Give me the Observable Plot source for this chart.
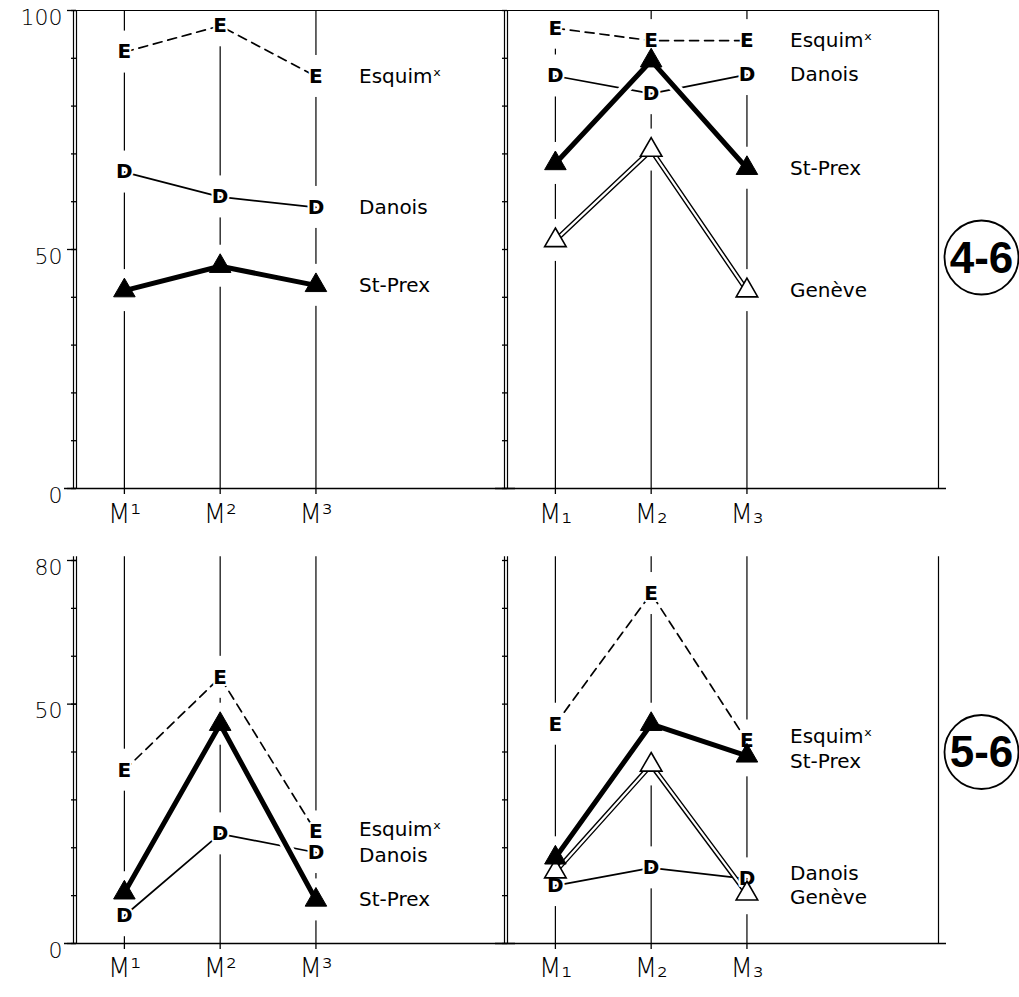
<!DOCTYPE html>
<html><head><meta charset="utf-8">
<script src="https://cdn.jsdelivr.net/npm/d3@7"></script>
<script src="https://cdn.jsdelivr.net/npm/@observablehq/plot@0.6"></script>
<style>
body{margin:0;background:#fff;}
#chart{width:1019px;height:997px;position:relative;background:#fff;}
#chart svg{display:block;overflow:visible;}
g[aria-label="series-label"] text{letter-spacing:1.8px;}
g[aria-label="tooth-label"] text{letter-spacing:1px;}
g[aria-label="circle-label"] text{letter-spacing:-1.5px;}
</style></head><body><div id="chart"></div>
<script>
// ---------- data ----------
const jaws = ["sup", "inf"];                 // upper molars | lower molars
const upperTeeth = ["M¹", "M²", "M³"];
const lowerTeeth = ["M₁", "M₂", "M₃"];
const seriesNames = ["Esquim", "Danois", "St-Prex", "Genève"];
const seriesLabels = ["Esquimˣ", "Danois", "St-Prex", "Genève"];

// group 4-6 (y 0..100)
const esquim46Sup = [91.3, 96.8, 86.2];
const danois46Sup = [66.2, 61.0, 58.8];
const stprex46Sup = [41.4, 46.5, 42.5];
const esquim46Inf = [96.3, 93.7, 93.7];
const danois46Inf = [86.3, 82.6, 86.6];
const stprex46Inf = [68.0, 89.5, 67.0];
const geneve46Inf = [51.9, 70.8, 41.4];
const yLabels46 = [0, 50, 100];

// group 5-6 (y 0..80)
const esquim56Sup = [36.2, 55.6, 23.3];
const danois56Sup = [5.8, 22.9, 19.0];
const stprex56Sup = [10.6, 45.8, 9.1];
const esquim56Inf = [45.8, 73.1, 42.3];
const danois56Inf = [12.1, 15.8, 13.5];
const stprex56Inf = [17.9, 45.8, 39.2];
const geneve56Inf = [15.0, 37.3, 10.4];
const yLabels56 = [0, 50, 80];

// small label nudges (value units) where labels would collide
const labelNudge56Sup = {"Esquim": 0.5, "Danois": -0.6};
const labelNudge56Inf = {"Esquim": 1.0, "St-Prex": -1.3, "Danois": 1.0, "Genève": -0.9};

// ---------- drawing ----------
const FONT = "DejaVu Sans, sans-serif";
const xDomain = [0.5, 5.0];
const labelX = 3.45;

function build(cfg) {
  const rows = [];
  const labels = [];
  for (const s of cfg.series) {
    s.values.forEach((v, i) => rows.push({jaw: s.jaw, series: s.name, pos: i + 1, value: v}));
    const nudge = (cfg.nudges[s.jaw] || {})[s.name] || 0;
    labels.push({jaw: s.jaw, label: seriesLabels[seriesNames.indexOf(s.name)], value: s.values[2] + nudge});
  }
  const teeth = [];
  upperTeeth.forEach((t, i) => teeth.push({jaw: "sup", pos: i + 1, label: t}));
  lowerTeeth.forEach((t, i) => teeth.push({jaw: "inf", pos: i + 1, label: t}));
  const of = (name) => rows.filter(d => d.series === name);
  const common = {x: "pos", y: "value", fx: "jaw"};
  const yTop = cfg.yTop;
  const ppu = (cfg.height - cfg.marginTop - cfg.marginBottom) / cfg.yMax; // px per unit
  const gap = 21 / ppu;

  const marks = [
    // vertical guide lines at each molar
    Plot.ruleX([1, 2, 3], {y1: 0, y2: yTop, stroke: "black", strokeWidth: 1.2}),
    // white gaps in the guide lines around each marker
    Plot.ruleX(rows, {x: "pos", fx: "jaw", y1: d => d.value - gap, y2: d => d.value + gap, stroke: "white", strokeWidth: 5}),
    // double left axis line of each panel
    Plot.ruleX([xDomain[0]], {y1: 0, y2: yTop, stroke: "black", strokeWidth: 1.2}),
    Plot.ruleX([xDomain[0]], {y1: 0, y2: yTop, stroke: "black", strokeWidth: 1.2, dx: -3}),
    // right border
    Plot.ruleX([{jaw: "inf"}], {fx: "jaw", x: () => xDomain[1], y1: 0, y2: yTop, stroke: "black", strokeWidth: 1.2}),
    // baseline
    Plot.ruleY([0], {stroke: "black", strokeWidth: 1.5, insetLeft: -12, insetRight: -8}),
    Plot.axisY(d3.range(0, cfg.yMax + 1, 10), {tickSize: 5, tickFormat: () => "", label: null, facetAnchor: null, strokeWidth: 1.3}),
    Plot.axisY(cfg.yLabels, {tickSize: 9, tickFormat: () => "", label: null, facetAnchor: "left", strokeWidth: 1.3}),
    Plot.text(cfg.yLabels, {fx: () => "sup", y: d => d, text: d => String(d), frameAnchor: "left", textAnchor: "end", dx: -14, dy: 7, fontSize: 22, fontWeight: 300, fontFamily: FONT, fill: "black", ariaLabel: "y-label"}),
    Plot.axisX([1, 2, 3], {tickSize: 6, tickFormat: () => "", label: null, strokeWidth: 1.3})
  ];
  if (cfg.topLine) marks.push(Plot.ruleY([cfg.yMax], {stroke: "black", strokeWidth: 1.2, insetLeft: -3}));

  // series lines
  marks.push(
    Plot.line(of("Esquim"), {...common, stroke: "white", strokeWidth: 8}),
    Plot.line(of("Esquim"), {...common, stroke: "black", strokeWidth: 1.7, strokeDasharray: "9,6"}),
    Plot.line(of("Danois"), {...common, stroke: "white", strokeWidth: 8}),
    Plot.line(of("Danois"), {...common, stroke: "black", strokeWidth: 1.7}),
    Plot.line(of("St-Prex"), {...common, stroke: "white", strokeWidth: 11}),
    Plot.line(of("St-Prex"), {...common, stroke: "black", strokeWidth: 5}),
    Plot.line(of("Genève"), {...common, stroke: "black", strokeWidth: 5}),
    Plot.line(of("Genève"), {...common, stroke: "white", strokeWidth: 2.2})
  );
  // markers
  marks.push(
    Plot.text(of("Danois"), {...common, text: () => "D", fontSize: 20, fontWeight: "bold", fontFamily: FONT, fill: "black", stroke: "white", strokeWidth: 4}),
    Plot.text(of("Esquim"), {...common, text: () => "E", fontSize: 20, fontWeight: "bold", fontFamily: FONT, fill: "black", stroke: "white", strokeWidth: 4}),
    Plot.dot(of("Genève"), {...common, symbol: "triangle", r: 8, fill: "white", stroke: "black", strokeWidth: 1.6}),
    Plot.dot(of("St-Prex"), {...common, symbol: "triangle", r: 8, fill: "black", stroke: "black", strokeWidth: 1})
  );
  // labels
  marks.push(
    Plot.text(teeth, {fx: "jaw", x: "pos", text: "label", frameAnchor: "bottom", dy: cfg.toothDy, fontSize: 26, fontWeight: 300, fontFamily: FONT, fill: "black", ariaLabel: "tooth-label"}),
    Plot.text(labels, {fx: "jaw", x: () => labelX, y: "value", text: "label", textAnchor: "start", fontSize: 20, fontFamily: FONT, fill: "black", ariaLabel: "series-label"}),
    Plot.dot([cfg.group], {fx: () => "inf", frameAnchor: "right", dx: 43, dy: cfg.circleDy, r: 37, fill: "white", stroke: "black", strokeWidth: 1.8}),
    Plot.text([cfg.group], {fx: () => "inf", frameAnchor: "right", textAnchor: "middle", dx: 43, dy: cfg.circleDy + 1, text: d => d, fontSize: 44, fontWeight: "bold", fontFamily: "Liberation Sans, Arial, sans-serif", fill: "black", ariaLabel: "circle-label"})
  );

  return Plot.plot({
    width: 1019,
    height: cfg.height,
    marginLeft: 75,
    marginRight: 81,
    marginTop: cfg.marginTop,
    marginBottom: cfg.marginBottom,
    style: {fontFamily: FONT, background: "white", color: "black"},
    fx: {domain: jaws, padding: 0, axis: null},
    x: {domain: xDomain, axis: null},
    y: {domain: [0, cfg.yMax], axis: null},
    marks
  });
}

const top46 = build({
  group: "4-6", yMax: 100, yTop: 100, yLabels: yLabels46, topLine: true,
  height: 540, marginTop: 10, marginBottom: 52, toothDy: 34, circleDy: 8,
  nudges: {},
  series: [
    {jaw: "sup", name: "Esquim", values: esquim46Sup},
    {jaw: "sup", name: "Danois", values: danois46Sup},
    {jaw: "sup", name: "St-Prex", values: stprex46Sup},
    {jaw: "inf", name: "Esquim", values: esquim46Inf},
    {jaw: "inf", name: "Danois", values: danois46Inf},
    {jaw: "inf", name: "St-Prex", values: stprex46Inf},
    {jaw: "inf", name: "Genève", values: geneve46Inf}
  ]
});
const bottom56 = build({
  group: "5-6", yMax: 80, yTop: 80.8, yLabels: yLabels56, topLine: false,
  height: 457, marginTop: 20, marginBottom: 54, toothDy: 33, circleDy: 0,
  nudges: {sup: labelNudge56Sup, inf: labelNudge56Inf},
  series: [
    {jaw: "sup", name: "Esquim", values: esquim56Sup},
    {jaw: "sup", name: "Danois", values: danois56Sup},
    {jaw: "sup", name: "St-Prex", values: stprex56Sup},
    {jaw: "inf", name: "Esquim", values: esquim56Inf},
    {jaw: "inf", name: "Danois", values: danois56Inf},
    {jaw: "inf", name: "St-Prex", values: stprex56Inf},
    {jaw: "inf", name: "Genève", values: geneve56Inf}
  ]
});
document.getElementById("chart").append(top46, bottom56);
</script></body></html>
